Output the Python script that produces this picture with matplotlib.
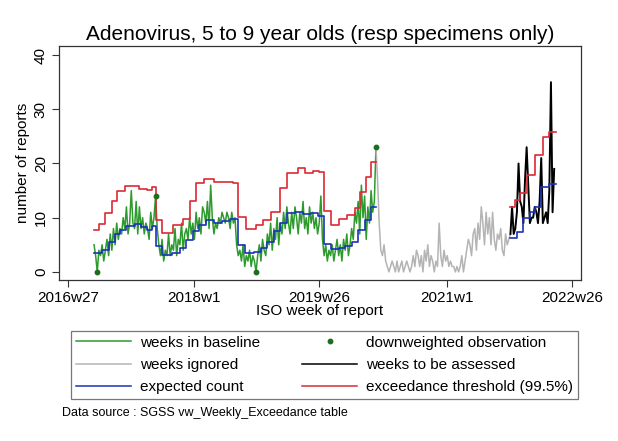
import matplotlib
matplotlib.use("Agg")
import matplotlib.pyplot as plt
from matplotlib.lines import Line2D

plt.rcParams['font.family'] = ['Liberation Sans', 'DejaVu Sans']

TITLE = "Adenovirus, 5 to 9 year olds (resp specimens only)"
TICK_LABELS = ["2016w27", "2018w1", "2019w26", "2021w1", "2022w26"]


def week_index(label):
    # Stata style weekly date: 52 weeks per year
    year, week = label.split("w")
    return (int(year) - 2016) * 52 + int(week) - 1


# weekly counts, first week of each run given as ISO week label
baseline_start = "2016w43"
baseline_counts = [
    5, 3, 0, 4, 3, 5, 2, 4, 6, 3,
    7, 4, 8, 5, 9, 6, 8, 7, 10, 8,
    12, 7, 9, 15, 9, 8, 13, 7, 12, 8,
    10, 7, 9, 8, 6, 11, 8, 10, 14, 8,
    5, 3, 6, 2, 4, 3, 7, 3, 5, 4,
    8, 3, 6, 5, 9, 4, 7, 8, 6, 10,
    7, 9, 6, 11, 8, 10, 7, 12, 11, 9,
    13, 8, 16, 10, 7, 9, 8, 10, 9, 11,
    10, 9, 11, 10, 8, 11, 9, 10, 5, 3,
    4, 2, 5, 1, 3, 2, 4, 1, 3, 2,
    0, 3, 5, 2, 6, 4, 3, 7, 5, 9,
    4, 8, 6, 10, 5, 9, 7, 11, 8, 12,
    9, 7, 11, 8, 12, 10, 7, 11, 9, 13,
    8, 10, 7, 12, 9, 11, 8, 10, 7, 9,
    14, 6, 3, 5, 2, 4, 3, 5, 2, 4,
    6, 3, 5, 2, 6, 4, 7, 3, 5, 8,
    6, 11, 9, 13, 7, 16, 10, 14, 6, 12,
    9, 15, 11, 13, 23,
]

ignored_start = "2020w9"
ignored_counts = [
    23, 17, 9, 4, 3, 5, 2, 1, 0, 1,
    2, 1, 0, 2, 0, 1, 2, 0, 1, 2,
    1, 0, 1, 3, 1, 4, 3, 1, 3, 0,
    4, 2, 5, 1, 3, 2, 0, 2, 1, 9,
    3, 1, 4, 2, 3, 1, 2, 1, 1, 0,
    1, 0, 1, 3, 0, 2, 4, 6, 5, 3,
    7, 8, 4, 9, 6, 12, 9, 5, 11, 7,
    10, 5, 11, 6, 4, 7, 6, 8, 4, 3,
    7, 5, 6, 7,
]

assessed_start = "2021w40"
assessed_counts = [
    7, 12, 7, 8, 11, 20, 13, 12, 9, 17,
    23, 16, 9, 10, 10, 12, 11, 9, 13, 21,
    9, 10, 11, 9, 15, 35, 11, 19,
]

# downweighted observations (weeks of the baseline)
downweighted_weeks = ["2016w45", "2017w29", "2018w39", "2020w9"]

# expected count and threshold, step values (week label, value)
expected_steps = [
    ("2016w43", 3.5), ("2016w48", 4.0), ("2016w52", 5.5), ("2017w4", 7.0),
    ("2017w7", 7.8), ("2017w11", 8.5), ("2017w16", 8.8), ("2017w20", 8.3),
    ("2017w24", 7.8), ("2017w27", 8.4), ("2017w29", 4.8), ("2017w33", 3.2),
    ("2017w39", 3.5), ("2017w44", 4.5), ("2017w48", 5.8), ("2017w52", 7.5),
    ("2018w4", 8.6), ("2018w8", 9.6), ("2018w13", 9.0), ("2018w18", 9.4),
    ("2018w23", 9.8), ("2018w28", 5.0), ("2018w32", 3.5), ("2018w38", 3.6),
    ("2018w42", 4.4), ("2018w46", 5.5), ("2018w50", 7.5), ("2019w2", 9.0),
    ("2019w6", 10.8), ("2019w11", 11.1), ("2019w16", 10.6), ("2019w21", 10.8),
    ("2019w25", 10.3), ("2019w29", 5.2), ("2019w33", 4.2), ("2019w38", 4.5),
    ("2019w42", 4.8), ("2019w46", 5.6), ("2019w50", 7.8), ("2020w2", 9.5),
    ("2020w6", 12.0), ("2020w9", 12.0),
]
threshold_steps = [
    ("2016w43", 7.8), ("2016w46", 8.8), ("2016w50", 10.8), ("2017w2", 13.0),
    ("2017w5", 15.0), ("2017w10", 15.8), ("2017w15", 15.9), ("2017w19", 15.3),
    ("2017w24", 15.1), ("2017w27", 15.6), ("2017w29", 9.6), ("2017w33", 7.2),
    ("2017w40", 8.6), ("2017w46", 9.8), ("2017w50", 13.0), ("2018w2", 16.4),
    ("2018w7", 17.2), ("2018w13", 16.5), ("2018w19", 16.6), ("2018w25", 16.4),
    ("2018w28", 10.2), ("2018w33", 7.9), ("2018w39", 8.6), ("2018w43", 9.5),
    ("2018w48", 11.0), ("2019w2", 15.4), ("2019w6", 18.3), ("2019w13", 19.2),
    ("2019w17", 18.3), ("2019w22", 18.6), ("2019w26", 18.5), ("2019w29", 11.3),
    ("2019w33", 8.7), ("2019w38", 9.8), ("2019w43", 10.5), ("2019w48", 11.8),
    ("2019w51", 14.8), ("2020w3", 17.6), ("2020w6", 20.3), ("2020w9", 20.3),
]
expected_steps_new = [
    ("2021w40", 6.2), ("2021w44", 7.4), ("2021w48", 10.0), ("2021w52", 11.0),
    ("2022w3", 12.0), ("2022w7", 15.6), ("2022w12", 16.3), ("2022w16", 16.3),
]
threshold_steps_new = [
    ("2021w40", 12.0), ("2021w43", 13.2), ("2021w46", 14.5), ("2021w50", 17.8),
    ("2022w3", 21.6), ("2022w8", 24.8), ("2022w12", 25.8), ("2022w16", 25.8),
]

GREEN = "#2e9a2e"
GRAY = "#b4b4b4"
BLUE = "#1a33b8"
RED = "#dc2a36"
DOT = "#1f6e1f"


def run(start, values):
    s = week_index(start)
    return list(range(s, s + len(values))), values


def steps(pairs):
    return [week_index(w) for w, _ in pairs], [v for _, v in pairs]


fig = plt.figure(figsize=(6.18, 4.41), dpi=100)
ax = fig.add_axes([0.0955, 0.365, 0.8445, 0.531])

x, y = run(baseline_start, baseline_counts)
ax.plot(x, y, color=GREEN, lw=1.1)
x, y = run(ignored_start, ignored_counts)
ax.plot(x, y, color=GRAY, lw=1.1)
x, y = run(assessed_start, assessed_counts)
ax.plot(x, y, color="black", lw=1.4)

for pairs in (expected_steps, expected_steps_new):
    x, y = steps(pairs)
    ax.plot(x, y, color=BLUE, lw=1.2, drawstyle="steps-post")
for pairs in (threshold_steps, threshold_steps_new):
    x, y = steps(pairs)
    ax.plot(x, y, color=RED, lw=1.2, drawstyle="steps-post")

b0 = week_index(baseline_start)
dx = [week_index(w) for w in downweighted_weeks]
dy = [baseline_counts[i - b0] for i in dx]
ax.plot(dx, dy, ls="none", marker="o", ms=3.2, color=DOT, zorder=5)

ax.set_xlim(20.4, 342.5)
ax.set_ylim(-1.5, 41.7)
ax.set_xticks([week_index(l) for l in TICK_LABELS])
ax.set_xticklabels(TICK_LABELS)
ax.set_yticks([0, 10, 20, 30, 40])
for lbl in ax.get_yticklabels():
    lbl.set_rotation(90)
    lbl.set_va("center")
ax.tick_params(axis="both", labelsize=11, length=5, width=0.8,
               color="#333333", pad=3)
for sp in ax.spines.values():
    sp.set_color("#333333")
    sp.set_linewidth(0.9)

ax.set_title(TITLE, fontsize=15, pad=4)
ax.set_xlabel("ISO week of report", fontsize=11, labelpad=-1)
ax.set_ylabel("number of reports", fontsize=11, labelpad=3)

handles = [
    Line2D([], [], color=GREEN, lw=1.1),
    Line2D([], [], color=GRAY, lw=1.1),
    Line2D([], [], color=BLUE, lw=1.1),
    Line2D([], [], ls="none", marker="o", ms=3.2, color=DOT),
    Line2D([], [], color="black", lw=1.1),
    Line2D([], [], color=RED, lw=1.1),
]
labels = ["weeks in baseline", "weeks ignored", "expected count",
          "downweighted observation", "weeks to be assessed",
          "exceedance threshold (99.5%)"]
leg = fig.legend(handles, labels, ncol=2, loc="center",
                 bbox_to_anchor=(0.115, 0.0952, 0.82, 0.154), mode="expand",
                 borderaxespad=0, fontsize=11, frameon=True, fancybox=False,
                 handlelength=3.6, handletextpad=0.6, labelspacing=0.55,
                 borderpad=0.3, columnspacing=1.0)
leg.get_frame().set_edgecolor("#555555")
leg.get_frame().set_linewidth(0.9)

fig.text(0.1, 1 - 413 / 441, "Data source : SGSS vw_Weekly_Exceedance table",
         fontsize=9, va="center", ha="left")

fig.savefig("out.png", dpi=100)
